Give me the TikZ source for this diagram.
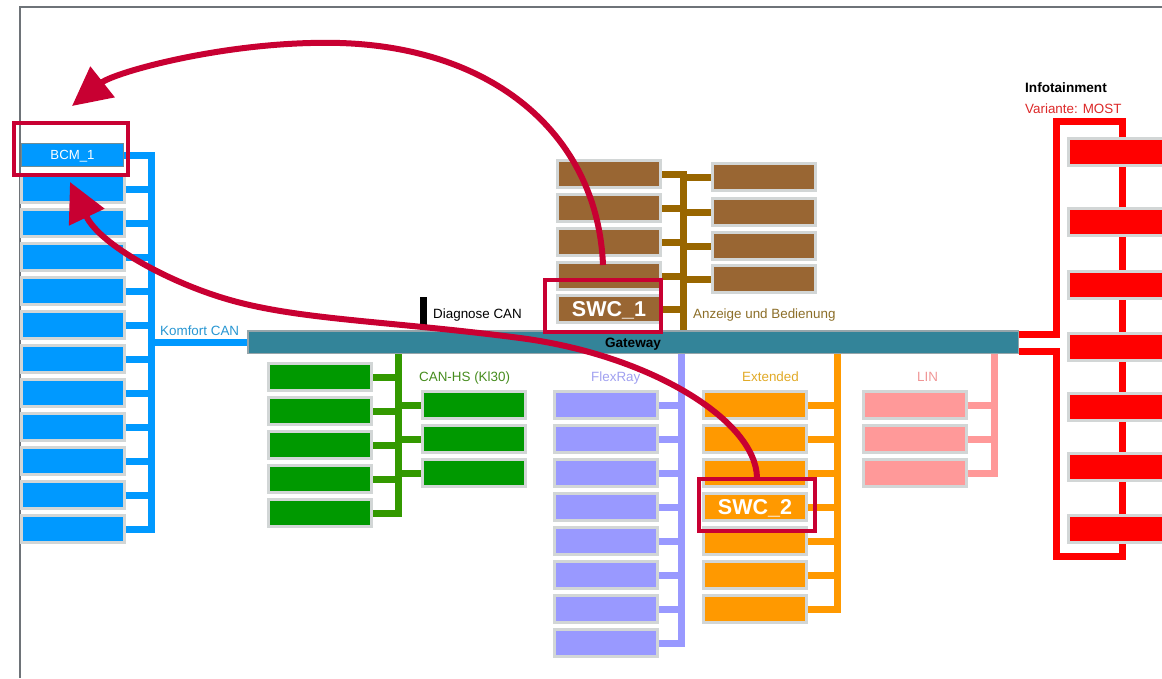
\documentclass[tikz,border=0pt]{standalone}
\usepackage{fontspec}
\setmainfont{Liberation Sans}
\usetikzlibrary{arrows.meta}
\definecolor{kblue}{RGB}{0,153,255}
\definecolor{brfill}{RGB}{153,102,51}
\definecolor{brbus}{RGB}{153,102,0}
\definecolor{grfill}{RGB}{0,153,0}
\definecolor{grbus}{RGB}{51,153,0}
\definecolor{flex}{RGB}{153,153,255}
\definecolor{orng}{RGB}{255,153,0}
\definecolor{linpink}{RGB}{255,153,153}
\definecolor{mred}{RGB}{255,0,0}
\definecolor{gwteal}{RGB}{51,132,153}
\definecolor{gwborder}{RGB}{150,165,170}
\definecolor{boxgray}{RGB}{210,214,214}
\definecolor{crim}{RGB}{200,0,50}
\definecolor{framec}{RGB}{110,115,120}
\definecolor{kcan}{RGB}{40,150,210}
\definecolor{anzc}{RGB}{140,110,40}
\definecolor{cangc}{RGB}{70,140,30}
\definecolor{flexc}{RGB}{160,160,240}
\definecolor{extc}{RGB}{225,170,40}
\definecolor{linc}{RGB}{240,150,150}
\definecolor{mostc}{RGB}{220,40,40}
\definecolor{bcmborder}{RGB}{110,140,150}
\begin{document}
\begin{tikzpicture}[x=1pt,y=-1pt,
  ecu/.style={draw=boxgray, line width=3pt, minimum width=103pt, minimum height=27pt, inner sep=0pt, text=white},
  bus/.style={line width=7pt, line join=miter, line cap=butt},
  lbl/.style={font=\fontsize{13.4}{15}\selectfont, anchor=base west, inner sep=0pt},
  hl/.style={draw=crim, line width=4pt, inner sep=0pt, minimum width=114pt, minimum height=52pt},
  bigarrow/.style={draw=crim, line width=6pt, -{Triangle[length=39pt,width=38pt]}},
  swc/.style={font=\fontsize{21.5}{24}\selectfont\bfseries, text height=15.4pt, text depth=0pt}
]
\useasboundingbox (0,0) rectangle (1162,678);
\clip (0,0) rectangle (1162,678);

% frame
\draw[framec, line width=2pt] (20,678) -- (20,7) -- (1162,7);

% gateway
\node[draw=gwborder, fill=gwteal, line width=1.5pt, minimum width=770.5pt, minimum height=22.5pt,
      inner sep=0pt, font=\fontsize{13.6}{16}\selectfont\bfseries, text height=10pt, text depth=0pt] (gw) at (633,342) {Gateway};

% ---------- Komfort CAN ----------
\coordinate (kbus) at (151,155);
\node[draw=bcmborder, line width=1pt, fill=kblue, minimum width=102pt, minimum height=23pt, inner sep=0pt,
      text=white, font=\fontsize{13.2}{15}\selectfont, text height=9.5pt, text depth=0pt] (k1) at (72.5,155) {BCM\_1};
\foreach \y [count=\i from 2] in {189,223,257,291,325,359,393,427,461,495,529}
  \node[ecu, fill=kblue] (k\i) at (72.5,\y) {};
\draw[bus, kblue] (k1.east) -- (k1.east -| kbus) -- (k12.east -| kbus) -- (k12.east);
\foreach \i in {2,...,11}
  \draw[bus, kblue] (k\i.east) -- (k\i.east -| kbus);
\draw[bus, kblue] (kbus |- gw.west) -- (gw.west);
\node[lbl, text=kcan] (lkc) at (160,335) {Komfort CAN};

% ---------- Diagnose CAN ----------
\coordinate (dtop) at (423.5,297);
\draw[line width=7pt, black] (dtop) -- (dtop |- gw.north);
\node[lbl] (ldiag) at (433,318) {Diagnose CAN};

% ---------- Anzeige und Bedienung ----------
\coordinate (abus) at (683.5,170);
\foreach \y [count=\i] in {174,208,242,276}
  \node[ecu, fill=brfill] (a\i) at (609,\y) {};
\node[ecu, fill=brfill, swc] (a5) at (609,309) {SWC\_1};
\foreach \y [count=\i] in {177,212,246,279}
  \node[ecu, fill=brfill] (r\i) at (763.5,\y) {};
\draw[bus, brbus] (a1.east) -- (a1.east -| abus) -- (abus |- gw.north);
\foreach \i in {2,...,5}
  \draw[bus, brbus] (a\i.east) -- (a\i.east -| abus);
\foreach \i in {1,...,4}
  \draw[bus, brbus] (r\i.west) -- (r\i.west -| abus);
\node[lbl, text=anzc] (lanz) at (693,318) {Anzeige und Bedienung};

% ---------- CAN-HS ----------
\coordinate (gbus) at (398.5,400);
\foreach \y [count=\i] in {377,411,445,479,513}
  \node[ecu, fill=grfill] (g\i) at (320,\y) {};
\foreach \y [count=\i] in {405,439,473}
  \node[ecu, fill=grfill] (h\i) at (474,\y) {};
\draw[bus, grbus] (gbus |- gw.south) -- (g5.east -| gbus) -- (g5.east);
\foreach \i in {1,...,4}
  \draw[bus, grbus] (g\i.east) -- (g\i.east -| gbus);
\foreach \i in {1,...,3}
  \draw[bus, grbus] (h\i.west) -- (h\i.west -| gbus);
\node[lbl, text=cangc] (lcan) at (419,381) {CAN-HS (Kl30)};

% ---------- FlexRay ----------
\coordinate (fbus) at (681.5,400);
\foreach \y [count=\i] in {405,439,473,507,541,575,609,643}
  \node[ecu, fill=flex] (f\i) at (606,\y) {};
\draw[bus, flex] (fbus |- gw.south) -- (f8.east -| fbus) -- (f8.east);
\foreach \i in {1,...,7}
  \draw[bus, flex] (f\i.east) -- (f\i.east -| fbus);
\node[lbl, text=flexc] (lflex) at (591,381) {FlexRay};

% ---------- Extended ----------
\coordinate (ebus) at (837.5,400);
\foreach \y [count=\i] in {405,439,473}
  \node[ecu, fill=orng] (e\i) at (755,\y) {};
\node[ecu, fill=orng, swc] (e4) at (755,507) {SWC\_2};
\foreach \y [count=\i from 5] in {541,575,609}
  \node[ecu, fill=orng] (e\i) at (755,\y) {};
\draw[bus, orng] (ebus |- gw.south) -- (e7.east -| ebus) -- (e7.east);
\foreach \i in {1,...,6}
  \draw[bus, orng] (e\i.east) -- (e\i.east -| ebus);
\node[lbl, text=extc] (lext) at (742,381) {Extended};

% ---------- LIN ----------
\coordinate (lbus) at (994,400);
\foreach \y [count=\i] in {405,439,473}
  \node[ecu, fill=linpink] (l\i) at (914.5,\y) {};
\draw[bus, linpink] (lbus |- gw.south) -- (l3.east -| lbus) -- (l3.east);
\foreach \i in {1,2}
  \draw[bus, linpink] (l\i.east) -- (l\i.east -| lbus);
\node[lbl, text=linc] (llin) at (917,381) {LIN};

% ---------- Infotainment / MOST ----------
\coordinate (m1) at (1056,334.5);
\coordinate (m2) at (1056,351);
\draw[bus, mred] (gw.east |- m1) -- (m1) -- (1056,121) -- (1122.5,121) -- (1122.5,556) -- (1056,556) -- (m2) -- (gw.east |- m2);
\foreach \y [count=\i] in {152,222,284.5,346.5,406.5,467,529}
  \node[ecu, fill=mred, minimum width=127pt] (i\i) at (1132,\y) {};
\node[lbl, font=\fontsize{13.6}{16}\selectfont\bfseries] (linfo) at (1025,92) {Infotainment};
\node[lbl, text=mostc] (lmost) at (1025,113) {Variante: MOST};

% ---------- highlights ----------
\node[hl] (hlA) at (71,149) {};
\node[hl, minimum width=116pt] (hlS) at (603,306) {};
\node[hl, minimum width=116pt] (hlB) at (757,505) {};

% ---------- arrows ----------
\coordinate (a1s) at (603,265);
\coordinate (a1e) at (72,106);
\coordinate (a2e) at (70,182);
\draw[bigarrow] (a1s) .. controls (598,140) and (500,48) .. (340,43)
  .. controls (230,40) and (115,72) .. (a1e);
\draw[bigarrow] (hlB.north) .. controls (755,420) and (650,355) .. (520,338)
  .. controls (390,321) and (300,320) .. (230,300)
  .. controls (170,283) and (100,245) .. (a2e);
\end{tikzpicture}
\end{document}
